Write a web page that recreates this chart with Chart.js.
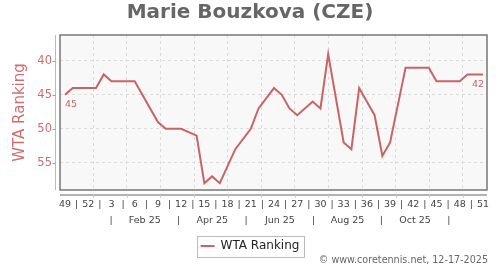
<!DOCTYPE html>
<html lang="en">
<head>
  <meta charset="UTF-8">
  <title>Marie Bouzkova (CZE)</title>
  <script src="https://cdn.jsdelivr.net/npm/chart.js"></script>
  <style>
    body { margin: 0; background: #fff; }
    #chart { display: block; }
  </style>
</head>
<body>
  <canvas id="chart" width="500" height="270"></canvas>
  <script>
    // one entry per week, week 49 of 2024 up to week 51 of 2025
    const weekLabels = ['49', '50', '51', '52',
      '1', '2', '3', '4', '5', '6', '7', '8', '9', '10', '11', '12', '13', '14', '15', '16', '17',
      '18', '19', '20', '21', '22', '23', '24', '25', '26', '27', '28', '29', '30', '31', '32', '33',
      '34', '35', '36', '37', '38', '39', '40', '41', '42', '43', '44', '45', '46', '47', '48', '49',
      '50', '51'];

    // WTA ranking per week (null = no ranking published that week, line spans it)
    const rankings = [45, 44, 44, 44, 44, 42, 43, 43, 43, 43, null, null, 49, 50, 50, 50, null, 51,
      58, 57, 58, null, 53, null, 50, 47, null, 44, 45, 47, 48, null, 46, 47, 39, null, 52, 53, 44,
      null, 48, 54, 52, null, 41, 41, 41, 41, 43, 43, 43, 43, 42, 42, 42];

    const monthLabels = ['Feb 25', 'Apr 25', 'Jun 25', 'Aug 25', 'Oct 25'];
    const yTicks = [40, 45, 50, 55];
    const labelledPoints = [0, rankings.length - 1];

    const lineColor = '#c96464';
    const redText = '#cf6d6d';

    const xMin = -0.65, xMax = 54.52;

    Chart.defaults.font.family = "'DejaVu Sans', sans-serif";

    const decor = {
      id: 'decor',
      beforeDraw(chart) {
        const { ctx, chartArea: a } = chart;
        ctx.save();
        ctx.fillStyle = '#f8f8f8';
        ctx.fillRect(a.left, a.top, a.right - a.left, a.bottom - a.top);
        ctx.restore();
      },
      afterDraw(chart) {
        const { ctx, chartArea: a, scales } = chart;
        ctx.save();

        // plot frame
        ctx.strokeStyle = '#777';
        ctx.lineWidth = 1.5;
        ctx.strokeRect(a.left, a.top, a.right - a.left, a.bottom - a.top);

        // detached y axis line with small ticks
        const yx = a.left - 4.5;
        ctx.lineWidth = 1;
        ctx.strokeStyle = '#e2aaaa';
        ctx.beginPath();
        ctx.moveTo(yx, a.top);
        ctx.lineTo(yx, a.bottom);
        ctx.stroke();
        ctx.strokeStyle = '#d88484';
        scales.y.ticks.forEach(t => {
          const py = Math.round(scales.y.getPixelForValue(t.value)) + 0.5;
          ctx.beginPath();
          ctx.moveTo(yx - 3, py);
          ctx.lineTo(yx, py);
          ctx.stroke();
        });

        // detached x axis line
        const xy = a.bottom + 5;
        ctx.strokeStyle = '#999';
        ctx.lineWidth = 1.5;
        ctx.beginPath();
        ctx.moveTo(a.left, xy);
        ctx.lineTo(a.right, xy);
        ctx.stroke();
        ctx.strokeStyle = '#ccc';
        ctx.lineWidth = 1;
        scales.xg.ticks.forEach(t => {
          const px = Math.round(scales.xg.getPixelForValue(t.value)) + 0.5;
          ctx.beginPath();
          ctx.moveTo(px, xy);
          ctx.lineTo(px, xy + 3);
          ctx.stroke();
        });

        // legend frame
        const hb = chart.legend.legendHitBoxes[0];
        if (hb) {
          ctx.strokeStyle = '#bbb';
          ctx.strokeRect(Math.round(hb.left - 4) + 0.5, Math.round(hb.top + hb.height / 2 - 10) + 0.5,
            Math.round(hb.width + 8), 21);
        }

        // value labels on first and last point
        const meta = chart.getDatasetMeta(0);
        ctx.fillStyle = lineColor;
        ctx.font = "9.5px 'DejaVu Sans', sans-serif";
        ctx.textBaseline = 'top';
        labelledPoints.forEach(i => {
          const el = meta.data[i];
          ctx.textAlign = i === 0 ? 'left' : 'right';
          ctx.fillText(String(rankings[i]), el.x + (i === 0 ? 0 : 1), el.y + 5);
        });

        // footer
        ctx.fillStyle = '#666';
        ctx.font = "9.6px 'DejaVu Sans', sans-serif";
        ctx.textAlign = 'right';
        ctx.textBaseline = 'alphabetic';
        ctx.fillText('\u00a9 www.coretennis.net, 12-17-2025', 488, 262.5);

        ctx.restore();
      }
    };

    new Chart(document.getElementById('chart'), {
      type: 'line',
      data: {
        datasets: [{
          label: 'WTA Ranking',
          data: rankings.map((v, i) => ({ x: i, y: v })),
          borderColor: lineColor,
          backgroundColor: lineColor,
          borderWidth: 2,
          pointRadius: 0,
          tension: 0,
          spanGaps: true
        }]
      },
      options: {
        responsive: false,
        animation: false,
        devicePixelRatio: 1,
        layout: { padding: { left: 0, right: 0, top: 0, bottom: 8 } },
        plugins: {
          title: {
            display: true,
            text: 'Marie Bouzkova (CZE)',
            color: '#666',
            font: { size: 20, weight: 'bold' },
            padding: { top: 1, bottom: 10 }
          },
          legend: {
            position: 'bottom',
            labels: {
              color: '#222',
              font: { size: 12 },
              usePointStyle: true,
              pointStyle: 'line',
              pointStyleWidth: 14,
              padding: 8
            }
          },
          tooltip: { enabled: false }
        },
        scales: {
          x: {
            type: 'linear',
            position: 'bottom',
            weight: 0,
            min: xMin,
            max: xMax,
            grid: { display: false, drawTicks: false },
            border: { display: false },
            afterBuildTicks: s => {
              const t = [];
              for (let v = 0; v <= weekLabels.length - 1; v += 1.5) t.push({ value: v });
              s.ticks = t;
            },
            afterFit: s => { s.height = 20; },
            ticks: {
              autoSkip: false,
              maxRotation: 0,
              minRotation: 0,
              padding: 9,
              color: '#444',
              font: { size: 9.5 },
              callback: v => (v % 3 === 0 ? weekLabels[v] : '|')
            }
          },
          xg: {
            type: 'linear',
            position: 'bottom',
            weight: 1,
            min: xMin,
            max: xMax,
            grid: { color: '#dcdcdc', drawTicks: false },
            border: { display: false, dash: [3, 3] },
            afterBuildTicks: s => {
              const t = [];
              for (let k = 0; k < 12; k++) t.push({ value: 3.65 + k * 4.34 });
              s.ticks = t;
            },
            afterFit: s => { s.height = 0; },
            ticks: { display: false }
          },
          x2: {
            type: 'linear',
            position: 'bottom',
            weight: 2,
            min: xMin,
            max: xMax,
            grid: { display: false, drawTicks: false },
            border: { display: false },
            afterBuildTicks: s => {
              const t = [];
              const start = 5.94, step = 8.73;
              for (let k = 0; k <= monthLabels.length; k++) {
                t.push({ value: start + k * step });
                if (k < monthLabels.length) t.push({ value: start + k * step + step / 2 });
              }
              s.ticks = t;
            },
            afterFit: s => { s.height = 22; },
            ticks: {
              autoSkip: false,
              maxRotation: 0,
              minRotation: 0,
              padding: 5,
              color: '#444',
              font: { size: 9.5 },
              callback: (v, i) => (i % 2 === 0 ? '|' : monthLabels[(i - 1) / 2])
            }
          },
          y: {
            type: 'linear',
            position: 'left',
            reverse: true,
            min: 36.2,
            max: 59,
            grid: { color: '#dcdcdc', drawTicks: false },
            border: { display: false, dash: [3, 3] },
            afterBuildTicks: s => { s.ticks = yTicks.map(v => ({ value: v })); },
            afterFit: s => { s.width = 60; },
            ticks: {
              padding: 8,
              color: redText,
              font: { size: 11.5 }
            },
            title: {
              display: true,
              text: 'WTA Ranking',
              color: redText,
              font: { size: 15 },
              padding: { top: 11, bottom: 0 }
            }
          },
          yRight: {
            type: 'linear',
            position: 'right',
            grid: { display: false, drawTicks: false },
            border: { display: false },
            ticks: { display: false },
            afterFit: s => { s.width = 13; }
          }
        }
      },
      plugins: [decor]
    });
  </script>
</body>
</html>
